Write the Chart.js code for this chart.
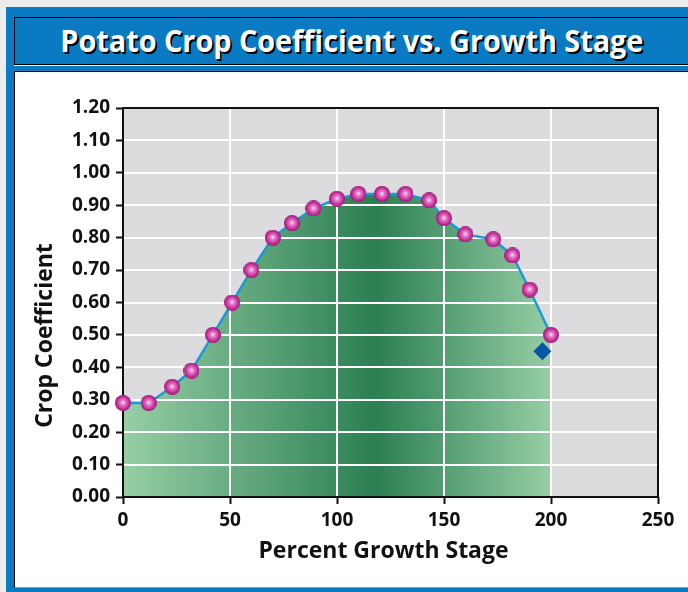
<!DOCTYPE html>
<html>
<head>
<meta charset="utf-8">
<script src="https://cdn.jsdelivr.net/npm/chart.js@4.4.1/dist/chart.umd.min.js"></script>
<style>
  body { margin: 0; background: #ececec; width: 688px; height: 592px; overflow: hidden; position: relative; font-family: 'Open Sans', sans-serif; }
  #frame { position: absolute; left: 6px; top: 7px; width: 682px; height: 585px; background: #0a7bc2; }
  #titlebar { position: absolute; left: 14px; top: 17px; width: 674px; height: 48px; box-sizing: border-box;
    border: 1px solid #000; border-right: none; background: #0a7bc2; }
  #titleline { position: absolute; left: 14px; top: 65px; width: 674px; height: 1px; background: #e8f2fa; }
  #title { position: absolute; left: 0; top: 3px; width: 100%; text-align: center; white-space: nowrap;
    color: #fff; font-weight: 700; font-size: 31px; line-height: 38px; text-shadow: 2px 2px 0 #000; }
  #title span { display: inline-block; transform-origin: center; }
  #panel { position: absolute; left: 14px; top: 71px; width: 674px; height: 517px; box-sizing: border-box;
    background: #fff; border-left: 1px solid #000; border-top: 1px solid #000; border-bottom: 1px solid #9a9a9a; }
  #chartBox { position: absolute; left: 15px; top: 72px; }
</style>
</head>
<body>
<div id="frame"></div>
<div id="titlebar"><div id="title"><span id="titleText">Potato Crop Coefficient vs. Growth Stage</span></div></div>
<div id="titleline"></div>
<div id="panel"></div>
<div id="chartBox"><canvas id="myChart" width="673" height="514"></canvas></div>
<script>
// values
let growthStage = [0, 12, 23, 32, 42, 51, 60, 70, 79, 89, 100, 110, 121, 132, 143, 150, 160, 173, 182, 190, 200];
let cropCoef = [0.29, 0.29, 0.34, 0.39, 0.50, 0.60, 0.70, 0.80, 0.845, 0.89, 0.92, 0.935, 0.935, 0.935, 0.915, 0.86, 0.81, 0.795, 0.745, 0.64, 0.50];
let extraStage = [196];
let extraCoef = [0.45];
let xTicks = [0, 50, 100, 150, 200, 250];
let yTicks = [0, 0.1, 0.2, 0.3, 0.4, 0.5, 0.6, 0.7, 0.8, 0.9, 1.0, 1.1, 1.2];

// fit title width
let tt = document.getElementById('titleText');
tt.style.transform = 'scaleX(' + (583 / tt.getBoundingClientRect().width) + ')';

// shiny magenta ball for the points
let ball = document.createElement('canvas');
ball.width = 16; ball.height = 16;
let bctx = ball.getContext('2d');
let rg = bctx.createRadialGradient(8, 7.5, 0, 8, 8, 8);
rg.addColorStop(0, '#fde8f6');
rg.addColorStop(0.3, '#e77cc9');
rg.addColorStop(0.75, '#c4309a');
rg.addColorStop(1, '#99156f');
bctx.fillStyle = rg;
bctx.beginPath(); bctx.arc(8, 8, 8, 0, Math.PI * 2); bctx.fill();

let greenFill = (context) => {
  let chart = context.chart;
  if (!chart.chartArea) return '#4a9a6a';
  let x = chart.scales.x;
  let g = chart.ctx.createLinearGradient(x.getPixelForValue(0), 0, x.getPixelForValue(200), 0);
  g.addColorStop(0, '#97cea5');
  g.addColorStop(0.59, '#2b7f52');
  g.addColorStop(1, '#97cea5');
  return g;
};

let framePlugin = {
  id: 'framePlugin',
  beforeDraw(chart) {
    let { ctx, chartArea: a } = chart;
    ctx.save();
    ctx.fillStyle = '#dcdcde';
    ctx.fillRect(a.left, a.top, a.width, a.height);
    ctx.restore();
  },
  beforeDatasetsDraw(chart) {
    let { ctx, chartArea: a, scales } = chart;
    ctx.save();
    ctx.strokeStyle = '#ffffff';
    ctx.lineWidth = 2;
    xTicks.forEach(v => {
      let px = Math.round(scales.x.getPixelForValue(v));
      ctx.beginPath(); ctx.moveTo(px, a.top); ctx.lineTo(px, a.bottom); ctx.stroke();
    });
    yTicks.forEach(v => {
      let py = Math.round(scales.y.getPixelForValue(v));
      ctx.beginPath(); ctx.moveTo(a.left, py); ctx.lineTo(a.right, py); ctx.stroke();
    });
    ctx.strokeStyle = '#111';
    ctx.lineWidth = 2;
    ctx.strokeRect(a.left, a.top, a.width, a.height);
    ctx.restore();
  },
  afterDraw(chart) {
    let { ctx, chartArea: a } = chart;
    ctx.save();
    ctx.fillStyle = '#111';
    ctx.font = "bold 23px 'Open Sans'";
    ctx.textAlign = 'center';
    ctx.textBaseline = 'middle';
    ctx.fillText('Percent Growth Stage', (a.left + a.right) / 2 - 7, a.bottom + 54);
    ctx.translate(30, (a.top + a.bottom) / 2 + 33);
    ctx.rotate(-Math.PI / 2);
    ctx.fillText('Crop Coefficient', 0, 0);
    ctx.restore();
  }
};

new Chart(document.getElementById('myChart'), {
  type: 'line',
  data: {
    datasets: [
      {
        data: growthStage.map((x, i) => ({ x: x, y: cropCoef[i] })),
        borderColor: '#1d9ad6',
        borderWidth: 2.5,
        backgroundColor: greenFill,
        fill: 'origin',
        tension: 0,
        pointStyle: ball,
        pointRadius: 8,
        clip: false
      },
      {
        data: extraStage.map((x, i) => ({ x: x, y: extraCoef[i] })),
        showLine: false,
        fill: false,
        pointStyle: 'rectRot',
        pointRadius: 9,
        pointBackgroundColor: '#0656a6',
        pointBorderWidth: 0,
        clip: false
      }
    ]
  },
  options: {
    responsive: false,
    animation: false,
    layout: { padding: { top: 36, right: 30, left: 0, bottom: 0 } },
    plugins: {
      legend: { display: false },
      tooltip: { enabled: false },
      filler: { drawTime: 'beforeDatasetsDraw' }
    },
    scales: {
      x: {
        type: 'linear',
        min: 0, max: 250,
        afterBuildTicks: (s) => { s.ticks = xTicks.map(v => ({ value: v })); },
        afterFit: (s) => { s.height = 89; },
        grid: { drawOnChartArea: false, drawTicks: true, tickLength: 7, tickWidth: 2, tickColor: '#111' },
        border: { display: false },
        ticks: { color: '#111', padding: 5, font: { family: "'Open Sans'", size: 19, weight: 'bold' } }
      },
      y: {
        min: 0, max: 1.2,
        afterBuildTicks: (s) => { s.ticks = yTicks.map(v => ({ value: v })); },
        afterFit: (s) => { s.width = 108; },
        grid: { drawOnChartArea: false, drawTicks: true, tickLength: 7, tickWidth: 2, tickColor: '#111' },
        border: { display: false },
        ticks: { color: '#111', padding: 6, callback: (v) => Number(v).toFixed(2), font: { family: "'Open Sans'", size: 19, weight: 'bold' } }
      }
    }
  },
  plugins: [framePlugin]
});
</script>
</body>
</html>
